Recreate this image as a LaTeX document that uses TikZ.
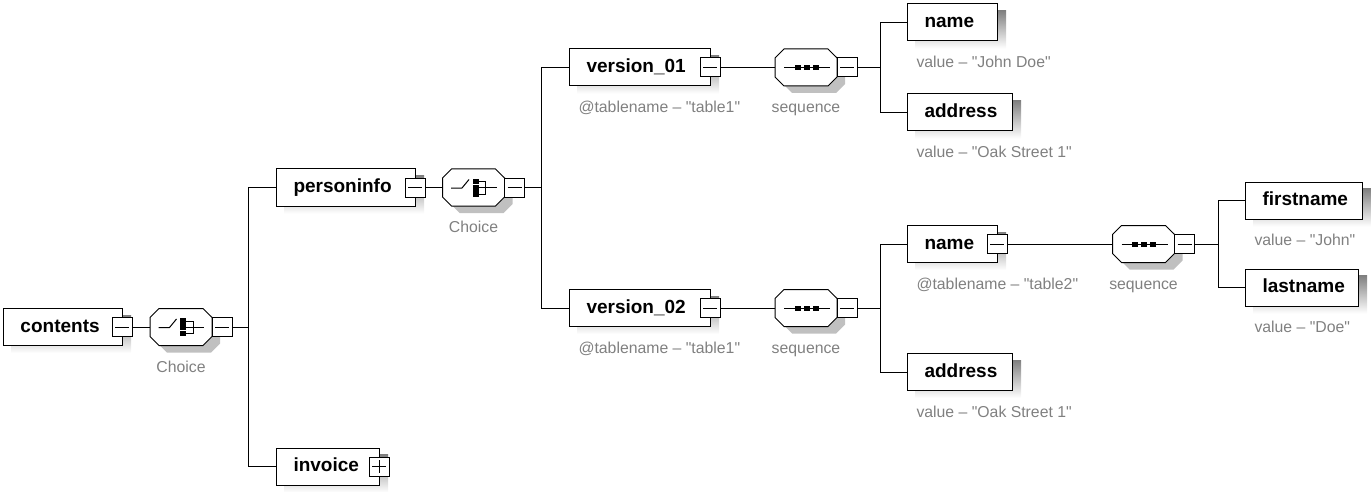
\documentclass[tikz,border=0pt]{standalone}
\usepackage{fontspec}
\setmainfont{Liberation Sans}
\usetikzlibrary{calc,backgrounds}

\definecolor{shade}{RGB}{192,192,192}
\definecolor{labelgray}{RGB}{128,128,128}

\tikzset{
  elem/.style={draw=black, fill=white, text width=#1, inner xsep=0pt, inner ysep=0pt,
    minimum height=37pt, align=left, anchor=west, text height=14pt, text depth=4pt,
    execute at begin node={\hspace*{17pt}},
    font=\bfseries\fontsize{19}{22}\selectfont},
  grp/.style={minimum width=62pt, minimum height=37pt, inner sep=0pt, outer sep=0pt},
  toggle/.style={draw=black, fill=white, minimum width=20pt, minimum height=19pt, inner sep=0pt},
  minus/.style={toggle, path picture={
    \draw ([xshift=3pt]path picture bounding box.west) -- ([xshift=-3pt]path picture bounding box.east);}},
  plus/.style={toggle, path picture={
    \draw ([xshift=3pt]path picture bounding box.west) -- ([xshift=-3pt]path picture bounding box.east);
    \draw ([yshift=-3pt]path picture bounding box.north) -- ([yshift=3pt]path picture bounding box.south);}},
  note/.style={text=labelgray, font=\fontsize{15.8}{18}\selectfont, inner sep=0pt, anchor=base west},
  grpnote/.style={note, anchor=base},
}

\newcommand\qq{\textquotedbl}

% octagon outline of a group node, offset by (#2,#3)
\newcommand\octo[4]{%
  \path[#4] ($(#1.north west)+(#2+9,#3)$) -- ($(#1.north east)+(#2-9,#3)$)
    -- ($(#1.north east)+(#2,#3+9)$) -- ($(#1.south east)+(#2,#3-9)$)
    -- ($(#1.south east)+(#2-9,#3)$) -- ($(#1.south west)+(#2+9,#3)$)
    -- ($(#1.south west)+(#2,#3-9)$) -- ($(#1.north west)+(#2,#3+9)$) -- cycle;}

% sequence symbol
\newcommand\seqicon[1]{%
  \draw ($(#1)+(-22,0)$) -- ($(#1)+(24,0)$);
  \foreach \d in {-8.5,0.5,9.5}
    \fill ($(#1)+(\d-3,-2.5)$) rectangle ($(#1)+(\d+3,2.5)$);}

% choice symbol
\newcommand\choiceicon[1]{%
  \draw ($(#1)+(-22.5,0.5)$) -- ($(#1)+(-11.5,0.5)$) -- ($(#1)+(-4.5,-8)$);
  \foreach \d in {-5.9,0.2,6.6}
    \fill ($(#1)+(-1,\d-2.8)$) rectangle ($(#1)+(5,\d+2.8)$);
  \draw ($(#1)+(5,-5.9)$) -- ($(#1)+(12,-5.9)$) -- ($(#1)+(12,6.6)$) -- ($(#1)+(5,6.6)$);
  \draw ($(#1)+(5,0.2)$) -- ($(#1)+(23,0.2)$);}

\begin{document}
\begin{tikzpicture}[x=1pt, y=-1pt, line width=1pt]
\useasboundingbox (0,0) rectangle (1371,492);

% element boxes
\node[elem=119pt] (contents)   at (3,327)      {contents};
\node[elem=139pt] (personinfo) at (276,187.5)  {personinfo};
\node[elem=103pt] (invoice)    at (276,466.5)  {invoice};
\node[elem=141pt] (v1)         at (569,67.5)   {version\_01};
\node[elem=141pt] (v2)         at (569,308)    {version\_02};
\node[elem=90pt]  (name1)      at (907,22.5)   {name};
\node[elem=105pt] (addr1)      at (907,112.5)  {address};
\node[elem=90pt]  (name2)      at (907,244)    {name};
\node[elem=105pt] (addr2)      at (907,372)    {address};
\node[elem=117pt] (first)      at (1245,200.5) {firstname};
\node[elem=113pt] (last)       at (1245,287.5) {lastname};

% compositor groups
\node[grp] (chA) at (181,327)      {};
\node[grp] (chB) at (473.5,187.5)  {};
\node[grp] (sq1) at (806,67.5)     {};
\node[grp] (sq2) at (806,308)      {};
\node[grp] (sq3) at (1143.5,244)   {};

\begin{scope}[on background layer]
  \foreach \n in {contents,personinfo,invoice,v1,v2,name1,addr1,name2,addr2,first,last}
    \fill[shade] ($(\n.north west)+(8,7)$) rectangle ($(\n.south east)+(8,7)$);
  \foreach \o in {chA,chB,sq1,sq2,sq3}
    {\octo{\o}{8}{7}{fill=shade}}
\end{scope}

\foreach \o in {chA,chB,sq1,sq2,sq3}
  {\octo{\o}{0}{0}{draw=black, fill=white}}
\choiceicon{chA}
\choiceicon{chB}
\seqicon{sq1}
\seqicon{sq2}
\seqicon{sq3}

% expand / collapse toggles
\node[minus] (contents-m)   at ($(contents.east)+(-1,0)$)   {};
\node[minus] (personinfo-m) at ($(personinfo.east)+(-1,0)$) {};
\node[plus]  (invoice-m)    at ($(invoice.east)+(-1,0)$)    {};
\node[minus] (v1-m)         at ($(v1.east)+(-1,0)$)         {};
\node[minus] (v2-m)         at ($(v2.east)+(-1,0)$)         {};
\node[minus] (name2-m)      at ($(name2.east)+(-1,0)$)      {};
\node[minus] (chA-m) at ($(chA.east)+(10,0)$) {};
\node[minus] (chB-m) at ($(chB.east)+(10,0)$) {};
\node[minus] (sq1-m) at ($(sq1.east)+(10,0)$) {};
\node[minus] (sq2-m) at ($(sq2.east)+(10,0)$) {};
\node[minus] (sq3-m) at ($(sq3.east)+(10,0)$) {};

% branching buses
\coordinate (busA) at (248.5,0);
\coordinate (busB) at (541,0);
\coordinate (busC) at (880,0);
\coordinate (busD) at (1218,0);

\draw (contents-m.east) -- (chA.west);
\draw (chA-m.east) -- (chA-m.east -| busA);
\draw (personinfo.west) -- (personinfo.west -| busA) -- (invoice.west -| busA) -- (invoice.west);
\draw (personinfo-m.east) -- (chB.west);
\draw (chB-m.east) -- (chB-m.east -| busB);
\draw (v1.west) -- (v1.west -| busB) -- (v2.west -| busB) -- (v2.west);
\draw (v1-m.east) -- (sq1.west);
\draw (sq1-m.east) -- (sq1-m.east -| busC);
\draw (name1.west) -- (name1.west -| busC) -- (addr1.west -| busC) -- (addr1.west);
\draw (v2-m.east) -- (sq2.west);
\draw (sq2-m.east) -- (sq2-m.east -| busC);
\draw (name2.west) -- (name2.west -| busC) -- (addr2.west -| busC) -- (addr2.west);
\draw (name2-m.east) -- (sq3.west);
\draw (sq3-m.east) -- (sq3-m.east -| busD);
\draw (first.west) -- (first.west -| busD) -- (last.west -| busD) -- (last.west);

% annotations
\node[grpnote] (chA-l) at ($(chA)+(0,45)$) {Choice};
\node[grpnote] (chB-l) at ($(chB)+(0,45)$) {Choice};
\node[grpnote] (sq1-l) at ($(sq1)+(0,45)$) {sequence};
\node[grpnote] (sq2-l) at ($(sq2)+(0,45)$) {sequence};
\node[grpnote] (sq3-l) at ($(sq3)+(0,45)$) {sequence};
\node[note] (v1-l)    at ($(v1.west)+(9,45)$)    {@tablename – \qq table1\qq};
\node[note] (v2-l)    at ($(v2.west)+(9,45)$)    {@tablename – \qq table1\qq};
\node[note] (name1-l) at ($(name1.west)+(9,45)$) {value – \qq John Doe\qq};
\node[note] (addr1-l) at ($(addr1.west)+(9,45)$) {value – \qq Oak Street 1\qq};
\node[note] (name2-l) at ($(name2.west)+(9,45)$) {@tablename – \qq table2\qq};
\node[note] (addr2-l) at ($(addr2.west)+(9,45)$) {value – \qq Oak Street 1\qq};
\node[note] (first-l) at ($(first.west)+(9,45)$) {value – \qq John\qq};
\node[note] (last-l)  at ($(last.west)+(9,45)$)  {value – \qq Doe\qq};
\end{tikzpicture}
\end{document}
